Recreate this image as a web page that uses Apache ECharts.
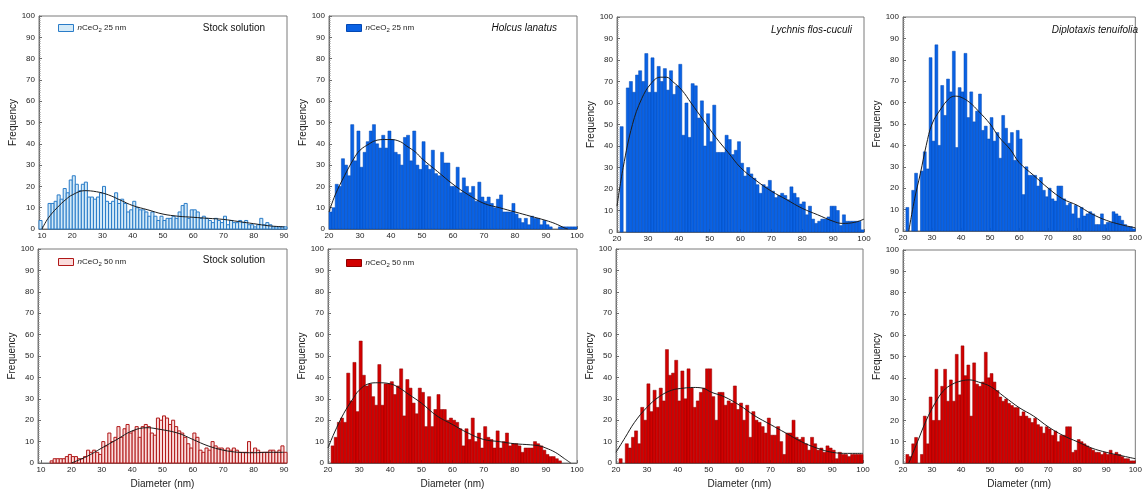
<!DOCTYPE html>
<html>
<head>
<meta charset="utf-8">
<script src="https://cdn.jsdelivr.net/npm/echarts@6/dist/echarts.min.js"></script>
<style>
  html, body { margin: 0; padding: 0; background: #fff; }
  #chart { width: 1145px; height: 490px; }
</style>
</head>
<body>
<div id="chart"></div>
<script>
// bin width is 1 nm everywhere, first bin given by *Start
var binWidth = 1;

// top row: nCeO2 25 nm
var stock25Start = 9;
var stock25Freq = [4, 0, 0, 12, 12, 13, 16, 14, 19, 17, 23, 25, 21, 18, 21, 22, 15, 15, 14, 15,
  17, 20, 13, 12, 13, 17, 12, 14, 12, 8, 9, 13, 10, 9, 9, 8, 6, 8, 6, 4,
  6, 4, 5, 5, 6, 5, 8, 11, 12, 5, 9, 9, 8, 5, 6, 5, 4, 3, 5, 4,
  3, 6, 2, 4, 3, 3, 4, 3, 4, 2, 2, 1, 2, 5, 2, 3, 2, 1, 1, 1, 1, 1];
var stock25Fit = [[10, 0], [12, 5], [15, 10], [18, 14], [20, 16], [24, 18], [28, 17.5], [32, 16], [36, 13.5],
  [40, 11], [45, 9], [50, 7], [55, 6], [60, 5.5], [65, 5], [70, 4.5], [75, 3.5], [80, 2.5], [85, 1.5], [90, 1]];

var holcus25Start = 20;
var holcus25Freq = [8, 10, 21, 20, 33, 30, 25, 49, 32, 46, 29, 36, 41, 46, 49, 40, 38, 44, 38, 46,
  42, 36, 35, 30, 43, 44, 32, 46, 30, 28, 41, 30, 28, 37, 26, 25, 36, 31, 31, 20,
  20, 29, 17, 24, 20, 17, 20, 13, 22, 15, 13, 15, 12, 10, 14, 16, 8, 8, 8, 12,
  7, 5, 3, 5, 2, 6, 5, 5, 2, 4, 2, 1, 0, 0, 1, 1, 1, 1, 1, 1];
var holcus25Fit = [[20, 8], [22, 16], [25, 25], [28, 33], [30, 37], [33, 40], [35, 41.5], [38, 42], [40, 42],
  [43, 41], [45, 39], [48, 36], [50, 33], [55, 27], [60, 21], [65, 16], [70, 12], [75, 10], [80, 8],
  [85, 6], [90, 4], [93, 2.5], [96, 0.5], [97, 0]];

var lychnis25Start = 20;
var lychnis25Freq = [0, 49, 0, 67, 70, 65, 73, 75, 70, 83, 65, 81, 65, 77, 70, 76, 66, 75, 64, 68,
  78, 45, 60, 44, 69, 68, 53, 61, 40, 55, 42, 59, 37, 37, 37, 45, 43, 36, 38, 42,
  32, 26, 30, 27, 25, 22, 18, 22, 21, 24, 19, 16, 17, 18, 17, 15, 21, 18, 16, 13,
  14, 8, 12, 6, 4, 5, 6, 6, 7, 12, 12, 10, 3, 8, 5, 5, 5, 5, 5, 1];
var lychnis25Fit = [[20, 12], [22, 30], [25, 50], [28, 62], [31, 69], [34, 72], [36, 72], [38, 70], [41, 66],
  [44, 60], [48, 52], [52, 44], [56, 37], [60, 30], [65, 24], [70, 19], [75, 15], [80, 11], [85, 8],
  [90, 5], [93, 4], [97, 4.5], [100, 6]];

var diplo25Start = 20;
var diplo25Freq = [0, 11, 0, 19, 27, 0, 28, 37, 29, 81, 42, 87, 40, 68, 54, 71, 65, 84, 39, 67,
  65, 83, 53, 65, 51, 56, 64, 47, 49, 43, 53, 42, 46, 34, 54, 48, 41, 46, 33, 47,
  43, 17, 30, 26, 26, 26, 21, 25, 19, 16, 20, 15, 14, 21, 21, 15, 12, 13, 8, 12,
  6, 11, 7, 8, 9, 8, 3, 3, 8, 3, 4, 4, 9, 8, 7, 5, 3, 2, 2, 1];
var diplo25Fit = [[22, 0], [24, 15], [26, 27], [28, 40], [30, 50], [33, 57], [36, 62], [38, 63], [40, 62.5],
  [43, 60], [46, 56], [50, 50], [53, 44], [57, 38], [60, 32], [65, 26], [70, 20], [75, 15], [80, 12],
  [85, 8], [90, 5], [95, 3], [100, 1.5]];

// bottom row: nCeO2 50 nm
var stock50Start = 13;
var stock50Freq = [1, 2, 2, 2, 2, 3, 4, 3, 3, 2, 2, 3, 6, 5, 6, 5, 4, 10, 8, 14,
  10, 12, 17, 12, 16, 18, 14, 15, 17, 12, 17, 18, 17, 14, 13, 21, 20, 22, 21, 18,
  20, 17, 15, 14, 12, 9, 7, 14, 12, 6, 5, 7, 6, 10, 8, 7, 7, 6, 7, 6,
  7, 6, 5, 5, 5, 10, 5, 7, 6, 5, 5, 5, 6, 6, 5, 6, 8, 5];
var stock50Fit = [[20, 0], [25, 3], [30, 7], [35, 11], [40, 15], [45, 16.5], [48, 16], [55, 14], [60, 11],
  [65, 8], [70, 6], [75, 5], [80, 4.8], [85, 5], [90, 5]];

var holcus50Start = 20;
var holcus50Freq = [0, 8, 12, 19, 21, 19, 42, 29, 47, 24, 57, 41, 36, 37, 31, 27, 46, 27, 37, 37,
  38, 32, 36, 44, 22, 39, 35, 28, 23, 35, 33, 17, 31, 17, 25, 32, 25, 25, 20, 21,
  20, 19, 16, 8, 16, 11, 21, 10, 14, 7, 17, 12, 11, 7, 15, 7, 10, 14, 8, 9,
  9, 8, 5, 7, 7, 7, 10, 9, 8, 6, 4, 3, 3, 2, 1, 0, 0, 0, 0, 0];
var holcus50Fit = [[20, 7], [22, 14], [25, 23], [28, 30], [30, 34], [33, 37], [36, 37.5], [40, 37], [43, 35],
  [46, 32], [50, 28], [55, 22], [60, 18], [65, 14], [70, 11], [75, 10], [80, 9], [85, 8.5], [88, 8],
  [90, 7], [93, 5], [96, 2], [98, 0]];

var lychnis50Start = 20;
var lychnis50Freq = [0, 2, 0, 9, 7, 12, 15, 9, 26, 20, 37, 24, 34, 26, 35, 29, 53, 41, 42, 48,
  29, 43, 30, 44, 35, 26, 29, 33, 35, 44, 44, 31, 20, 33, 33, 27, 29, 28, 36, 25,
  28, 20, 27, 12, 24, 20, 19, 17, 14, 21, 13, 13, 17, 10, 4, 14, 14, 20, 12, 11,
  12, 9, 6, 12, 9, 6, 7, 5, 8, 7, 6, 2, 5, 4, 4, 3, 4, 4, 4, 4];
var lychnis50Fit = [[20, 5], [23, 12], [26, 19], [30, 26], [34, 31], [38, 34], [42, 35], [45, 35.3], [48, 35],
  [51, 33], [55, 31], [60, 27], [65, 22], [70, 18], [75, 14], [80, 10], [85, 7], [90, 5], [95, 4.5], [100, 4.5]];

var diplo50Start = 20;
var diplo50Freq = [0, 4, 3, 9, 12, 0, 4, 22, 9, 31, 20, 44, 20, 36, 44, 29, 39, 29, 51, 32,
  55, 41, 46, 22, 47, 37, 36, 38, 52, 40, 42, 38, 34, 31, 29, 30, 28, 27, 26, 26,
  22, 24, 22, 21, 19, 21, 18, 17, 14, 17, 16, 13, 15, 10, 13, 13, 17, 17, 5, 6,
  11, 10, 9, 8, 7, 6, 5, 5, 4, 5, 4, 6, 4, 5, 4, 3, 2, 2, 1, 1];
var diplo50Fit = [[22, 0], [25, 10], [28, 20], [31, 28], [34, 34], [37, 37], [40, 38.5], [43, 39], [46, 38],
  [50, 36], [55, 31], [60, 26], [65, 22], [70, 17], [75, 13], [80, 10], [85, 7], [90, 5], [95, 3.5], [100, 2]];

var yTicks = [0, 10, 20, 30, 40, 50, 60, 70, 80, 90, 100];
var xTicksStock = [10, 20, 30, 40, 50, 60, 70, 80, 90];

var font = 'Liberation Sans, Arial, sans-serif';
var blue = '#0a62e4', blueEdge = '#0348b4';
var red = '#d20000', redEdge = '#8e0000';

// panel layout (pixels) + style
var panels = [
  { name: 'stock25', start: stock25Start, freq: stock25Freq, fit: stock25Fit, box: [39, 16, 248, 213], xr: [9, 91], fill: '#d4eaf8', edge: '#2a7cc8', bw: 1, bottom: false },
  { name: 'holcus25', start: holcus25Start, freq: holcus25Freq, fit: holcus25Fit, box: [329, 16, 248, 213], xr: [20, 100], fill: blue, edge: blueEdge, bw: 0.5, bottom: false },
  { name: 'lychnis25', start: lychnis25Start, freq: lychnis25Freq, fit: lychnis25Fit, box: [617, 17, 247, 215], xr: [20, 100], fill: blue, edge: blueEdge, bw: 0.5, bottom: false },
  { name: 'diplo25', start: diplo25Start, freq: diplo25Freq, fit: diplo25Fit, box: [903, 17, 244, 214], xr: [20, 100], fill: blue, edge: blueEdge, bw: 0.5, bottom: false },
  { name: 'stock50', start: stock50Start, freq: stock50Freq, fit: stock50Fit, box: [38, 249, 249, 214], xr: [9, 91], fill: '#fadcdc', edge: '#b01818', bw: 1, bottom: true },
  { name: 'holcus50', start: holcus50Start, freq: holcus50Freq, fit: holcus50Fit, box: [328, 249, 249, 215], xr: [20, 100], fill: red, edge: redEdge, bw: 0.5, bottom: true },
  { name: 'lychnis50', start: lychnis50Start, freq: lychnis50Freq, fit: lychnis50Fit, box: [616, 249, 247, 216], xr: [20, 100], fill: red, edge: redEdge, bw: 0.5, bottom: true },
  { name: 'diplo50', start: diplo50Start, freq: diplo50Freq, fit: diplo50Fit, box: [903, 250, 244, 215], xr: [20, 100], fill: red, edge: redEdge, bw: 0.5, bottom: true }
];

var grids = [], xAxes = [], yAxes = [], series = [];

panels.forEach(function (p, i) {
  grids.push({
    left: p.box[0], top: p.box[1], width: p.box[2], height: p.box[3],
    show: true, borderColor: '#7a7a7a', borderWidth: 1
  });
  var xa = {
    type: 'value', gridIndex: i, min: p.xr[0], max: p.xr[1],
    axisLine: { show: true, onZero: false, lineStyle: { color: '#6a6a6a', width: 1 } },
    axisTick: { show: true, inside: true, length: 3, lineStyle: { color: '#6a6a6a' } },
    axisLabel: { fontSize: 8, color: '#222', margin: 3, fontFamily: font },
    splitLine: { show: false }
  };
  if (p.xr[0] === 9) {
    xa.axisLabel.customValues = xTicksStock;
    xa.axisTick.customValues = xTicksStock;
  } else {
    xa.interval = 10;
  }
  if (p.bottom) {
    xa.name = 'Diameter (nm)';
    xa.nameLocation = 'middle';
    xa.nameGap = 16;
    xa.nameTextStyle = { fontSize: 10, color: '#222', fontFamily: font };
  }
  xAxes.push(xa);
  yAxes.push({
    type: 'value', gridIndex: i, min: 0, max: 100, interval: 10,
    axisLine: { show: true, lineStyle: { color: '#6a6a6a', width: 1 } },
    axisTick: { show: true, inside: true, length: 3, lineStyle: { color: '#6a6a6a' } },
    minorTick: { show: true, splitNumber: 10, length: 1.5, lineStyle: { color: '#8a8a8a' } },
    axisLabel: {
      fontSize: 8, color: '#222', margin: 4, fontFamily: font,
      customValues: yTicks
    },
    splitLine: { show: false },
    name: 'Frequency', nameLocation: 'middle', nameGap: 19,
    nameTextStyle: { fontSize: 10, color: '#222', fontFamily: font }
  });

  var data = p.freq.map(function (v, k) { return [p.start + k * binWidth, v]; });
  series.push({
    name: p.name,
    type: 'custom',
    coordinateSystem: 'cartesian2d',
    xAxisIndex: i, yAxisIndex: i,
    itemStyle: { color: p.fill, borderColor: p.edge, borderWidth: 1 },
    encode: { x: 0, y: 1 },
    data: data,
    z: 2,
    renderItem: function (params, api) {
      var x0 = api.value(0), h = api.value(1);
      if (!h) return;
      var a = api.coord([x0, h]);
      var b = api.coord([x0 + binWidth, 0]);
      return {
        type: 'rect',
        shape: { x: a[0], y: a[1], width: b[0] - a[0], height: b[1] - a[1] },
        style: { fill: p.fill, stroke: p.edge, lineWidth: p.bw }
      };
    }
  });
  series.push({
    name: p.name + 'Fit',
    type: 'line',
    xAxisIndex: i, yAxisIndex: i,
    data: p.fit,
    smooth: 0.4,
    showSymbol: false,
    silent: true,
    z: 5,
    lineStyle: { color: '#1c1c1c', width: 1 }
  });
});

var legendText = {
  stock25: '{i|n}CeO{s|2} 25 nm', holcus25: '{i|n}CeO{s|2} 25 nm',
  stock50: '{i|n}CeO{s|2} 50 nm', holcus50: '{i|n}CeO{s|2} 50 nm'
};
function makeLegend(name, left, top, fill, edge) {
  return {
    left: left, top: top, padding: 0, itemWidth: 15, itemHeight: 7, icon: 'rect',
    selectedMode: false,
    data: [{ name: name, itemStyle: { color: fill, borderColor: edge, borderWidth: 1 } }],
    formatter: function (n) { return legendText[n]; },
    textStyle: {
      fontSize: 8, color: '#222', fontFamily: font, padding: [0, 0, 0, -1],
      rich: {
        i: { fontStyle: 'italic', fontSize: 8, fontFamily: font, color: '#222' },
        s: { fontSize: 6, fontFamily: font, color: '#222', padding: [4, 0, 0, 0] }
      }
    }
  };
}

function label(text, x, y, italic) {
  return {
    type: 'text', x: x, y: y, z: 10,
    style: {
      text: text, fill: '#111', align: 'right', verticalAlign: 'middle',
      font: (italic ? 'italic ' : '') + '10px ' + font
    }
  };
}

var chart = echarts.init(document.getElementById('chart'), null, { renderer: 'canvas' });
chart.setOption({
  backgroundColor: '#ffffff',
  animation: false,
  grid: grids,
  xAxis: xAxes,
  yAxis: yAxes,
  legend: [
    makeLegend('stock25', 58, 24, '#d4eaf8', '#2a7cc8'),
    makeLegend('holcus25', 346, 24, blue, blueEdge),
    makeLegend('stock50', 58, 258, '#fadcdc', '#b01818'),
    makeLegend('holcus50', 346, 259, red, redEdge)
  ],
  graphic: [
    label('Stock solution', 265, 28, false),
    label('Holcus lanatus', 557, 28, true),
    label('Lychnis flos-cuculi', 852, 30, true),
    label('Diplotaxis tenuifolia', 1138, 30, true),
    label('Stock solution', 265, 260, false)
  ],
  series: series
});
</script>
</body>
</html>
